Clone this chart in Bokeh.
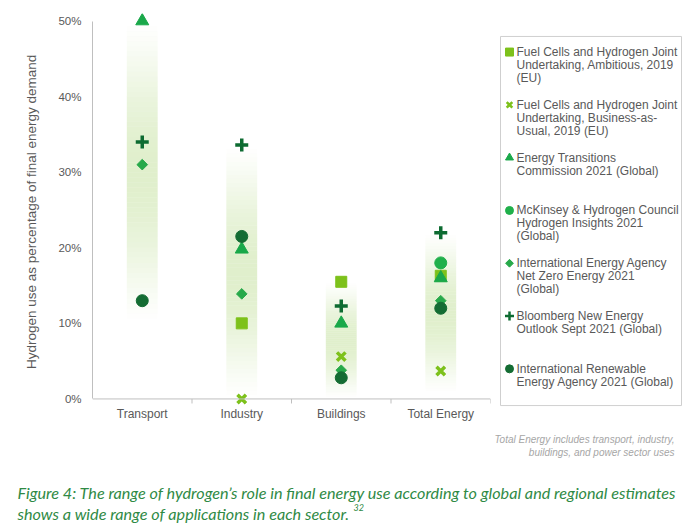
import math
from bokeh.plotting import figure
from bokeh.models import Range1d, FixedTicker, NumeralTickFormatter, Span
from bokeh.layouts import column, row
from bokeh.embed import file_html
from bokeh.resources import INLINE
from bokeh.core.properties import value

# ---------------- data ----------------
categories = ["Transport", "Industry", "Buildings", "Total Energy"]
nan = float("nan")
# values in percent of final energy demand, per category
fchju_ambitious = [nan, 10.0, 15.5, 16.3]
fchju_bau = [nan, 0.0, 5.6, 3.7]
etc_2021 = [50.0, 19.8, 10.0, 16.0]
mckinsey_2021 = [nan, nan, nan, 18.0]
iea_nze_2021 = [31.0, 13.9, 3.8, 13.0]
bnef_2021 = [34.0, 33.6, 12.3, 22.0]
irena_2021 = [13.0, 21.5, 2.8, 12.0]

series_values = [fchju_ambitious, fchju_bau, etc_2021, mckinsey_2021,
                 iea_nze_2021, bnef_2021, irena_2021]
series_labels = [
    ["Fuel Cells and Hydrogen Joint", "Undertaking, Ambitious, 2019", "(EU)"],
    ["Fuel Cells and Hydrogen Joint", "Undertaking, Business-as-", "Usual, 2019  (EU)"],
    ["Energy Transitions", "Commission 2021 (Global)"],
    ["McKinsey & Hydrogen Council", "Hydrogen Insights 2021", "(Global)"],
    ["International Energy Agency", "Net Zero Energy 2021", "(Global)"],
    ["Bloomberg New Energy", "Outlook Sept 2021 (Global)"],
    ["International Renewable", "Energy Agency 2021 (Global)"],
]
y_ticks = [0, 10, 20, 30, 40, 50]
y_axis_title = "Hydrogen use as percentage of  final energy demand"
note_lines = ["Total Energy includes transport, industry,",
              "buildings, and power sector uses"]
caption_lines = ["Figure 4: The range of hydrogen\u2019s role in final energy use according to global and regional estimates",
                 "shows a wide range of applications in each sector."]
caption_ref = "32"

# ---------------- styles ----------------
FONT = "Liberation Sans"
GRAY = "#595959"
styles = [
    dict(marker="square", color="#7DC11B", size=11, lw=1, lsize=8, llw=1, angle=0.0),
    dict(marker="x", color="#7DC11B", size=12, lw=3.5, lsize=8, llw=2.5, angle=0.0),
    dict(marker="triangle", color="#1AA84A", size=13, lw=1, lsize=8, llw=1, angle=0.0),
    dict(marker="circle", color="#20B04B", size=12, lw=1, lsize=8, llw=1, angle=0.0),
    dict(marker="square", color="#27A94A", size=7.5, lw=1, lsize=5.5, llw=1, angle=math.pi / 4),
    dict(marker="cross", color="#0D6B31", size=13, lw=3.5, lsize=9, llw=2.5, angle=0.0),
    dict(marker="circle", color="#146C33", size=12, lw=1, lsize=8, llw=1, angle=0.0),
]

n_cat = len(categories)
xs = list(range(n_cat))

p = figure(width=498, height=428, output_backend="svg", toolbar_location=None,
           x_range=Range1d(-0.5, n_cat - 0.5), y_range=Range1d(-0.01, 0.51),
           min_border_left=92, min_border_right=8, min_border_top=13,
           min_border_bottom=22)
p.outline_line_color = None
p.grid.visible = False
p.background_fill_color = "white"

# gradient bands spanning each category's range of estimates
band_w = 0.31
n_slices = 60
for i in xs:
    vals = [s[i] for s in series_values if not math.isnan(s[i])]
    lo = max(0.0, min(vals) - 3.0) / 100.0
    hi = max(vals) / 100.0
    step = (hi - lo) / n_slices
    bottoms = [lo + k * step for k in range(n_slices)]
    tops = [b + step for b in bottoms]
    alphas = [0.42 * math.sin(math.pi * (k + 0.5) / n_slices) ** 1.3 for k in range(n_slices)]
    p.quad(left=i - band_w / 2, right=i + band_w / 2, bottom=bottoms, top=tops,
           fill_color="#B5D986", fill_alpha=alphas, line_color=None)

# baseline and category separator ticks
p.add_layout(Span(location=0, dimension="width", line_color="#BFBFBF", line_width=1))
p.segment(x0=[i + 0.5 for i in xs], x1=[i + 0.5 for i in xs], y0=0, y1=-0.006,
          line_color="#BFBFBF", line_width=1)

# markers
for vals, st in zip(series_values, styles):
    px = [x for x, v in zip(xs, vals) if not math.isnan(v)]
    py = [v / 100.0 for v in vals if not math.isnan(v)]
    if st["marker"] in ("x", "cross"):
        p.scatter(px, py, marker=st["marker"], size=st["size"], line_color=st["color"],
                  line_width=st["lw"])
    else:
        p.scatter(px, py, marker=st["marker"], size=st["size"], fill_color=st["color"],
                  line_color=st["color"], line_width=st["lw"], angle=st["angle"])

# axes
p.xaxis.ticker = FixedTicker(ticks=xs)
p.xaxis.major_label_overrides = {i: c for i, c in zip(xs, categories)}
p.xaxis.axis_line_color = None
p.xaxis.major_tick_line_color = None
p.xaxis.minor_tick_line_color = None
p.xaxis.major_tick_out = 0
p.xaxis.major_tick_in = 0
p.xaxis.minor_tick_out = 0
p.xaxis.major_label_standoff = 0
p.xaxis.major_label_text_font = FONT
p.xaxis.major_label_text_font_size = "12px"
p.xaxis.major_label_text_color = GRAY

p.yaxis.ticker = FixedTicker(ticks=[t / 100.0 for t in y_ticks])
p.yaxis.formatter = NumeralTickFormatter(format="0%")
p.yaxis.bounds = (0, 0.5)
p.yaxis.axis_line_color = "#BFBFBF"
p.yaxis.major_tick_line_color = None
p.yaxis.minor_tick_line_color = None
p.yaxis.major_tick_out = 0
p.yaxis.major_tick_in = 0
p.yaxis.minor_tick_out = 0
p.yaxis.major_label_standoff = 11
p.yaxis.major_label_text_font = FONT
p.yaxis.major_label_text_font_size = "11.5px"
p.yaxis.major_label_text_color = GRAY
p.yaxis.axis_label = y_axis_title
p.yaxis.axis_label_text_font = FONT
p.yaxis.axis_label_text_font_style = "normal"
p.yaxis.axis_label_text_font_size = "13.5px"
p.yaxis.axis_label_text_color = GRAY
p.yaxis.axis_label_standoff = 16

# ---------------- legend panel ----------------
lf = figure(width=194, height=428, output_backend="svg", toolbar_location=None,
            x_range=Range1d(0, 194), y_range=Range1d(428, 0),
            x_axis_type=None, y_axis_type=None, min_border=0)
lf.outline_line_color = None
lf.grid.visible = False
lf.quad(left=2, right=183, top=25, bottom=427, fill_color=None,
        line_color="#CFCFCF", line_width=1)
item_gap = 57.5
line_gap = 14
for k, (lines, st) in enumerate(zip(series_labels, styles)):
    y0 = 42 + k * item_gap
    if st["marker"] in ("x", "cross"):
        lf.scatter([11], [y0], marker=st["marker"], size=st["lsize"], line_color=st["color"],
                   line_width=st["llw"])
    else:
        lf.scatter([11], [y0], marker=st["marker"], size=st["lsize"], fill_color=st["color"],
                   line_color=st["color"], angle=st["angle"])
    lf.text(x=[18] * len(lines), y=[y0 + j * line_gap for j in range(len(lines))], text=lines,
            text_font=value(FONT), text_font_size="12px", text_color=GRAY,
            text_baseline="middle", text_align="left")

# ---------------- note + caption ----------------
cf = figure(width=692, height=100, output_backend="svg", toolbar_location=None,
            x_range=Range1d(0, 692), y_range=Range1d(100, 0),
            x_axis_type=None, y_axis_type=None, min_border=0)
cf.outline_line_color = None
cf.grid.visible = False
cf.text(x=[674, 674], y=[11, 24], text=note_lines, text_font=value(FONT),
        text_font_size="10px", text_font_style="italic", text_color="#A6A6A6",
        text_align="right", text_baseline="middle")
cf.text(x=[17, 17], y=[64, 85], text=caption_lines, text_font=value("Lato"),
        text_font_size="16.2px", text_font_style="italic", text_color="#2F8A45",
        text_align="left", text_baseline="middle")
cf.text(x=[353], y=[79], text=[caption_ref], text_font=value("Lato"),
        text_font_size="9px", text_font_style="italic", text_color="#2F8A45",
        text_align="left", text_baseline="middle")

layout = column(row(p, lf), cf)
open("out.html", "w").write(file_html(layout, INLINE))
